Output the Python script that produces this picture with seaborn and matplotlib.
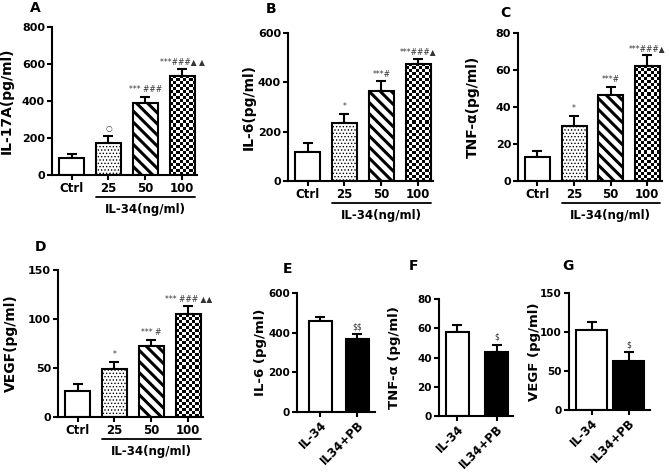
import numpy as np
import pandas as pd
import matplotlib
matplotlib.use("Agg")
import matplotlib.pyplot as plt
import seaborn as sns

# dose-response panels A-D
dose_cats = ["Ctrl", "25", "50", "100"]
il17a_mean = [90, 174, 390, 536]
il17a_err = [21, 36, 33, 36]
il6_mean = [119, 234, 363, 476]
il6_err = [34, 38, 41, 19]
tnf_mean = [13.2, 29.8, 46.6, 62.3]
tnf_err = [3.2, 5.4, 4.4, 5.6]
vegf_mean = [26.6, 48.5, 72.4, 105]
vegf_err = [6.8, 7.5, 6.6, 8.6]

il17a_marks = ["", "○", "*** ###", "***###▲ ▲"]
il6_marks = ["", "*", "***#", "***###▲"]
tnf_marks = ["", "*", "***#", "***###▲"]
vegf_marks = ["", "*", "*** #", "*** ### ▲▲"]

# PB panels E-G
pb_cats = ["IL-34", "IL34+PB"]
il6_pb_mean = [460, 370]
il6_pb_err = [19, 23]
tnf_pb_mean = [57.7, 44]
tnf_pb_err = [4.5, 4.7]
vegf_pb_mean = [102, 63]
vegf_pb_err = [11, 11.5]
il6_pb_marks = ["", "$$"]
tnf_pb_marks = ["", "$"]
vegf_pb_marks = ["", "$"]

W, H = 669, 473
sns.set_style("ticks")
plt.rcParams["font.family"] = ["DejaVu Sans"]
plt.rcParams["hatch.linewidth"] = 1.0
plt.rcParams["text.parse_math"] = False
for key in ["text.color", "axes.labelcolor", "xtick.color", "ytick.color", "axes.edgecolor"]:
    plt.rcParams[key] = "black"

fig = plt.figure(figsize=(W / 100, H / 100), dpi=100)


def add_ax(left, top, right, bottom):
    return fig.add_axes([left / W, (H - bottom) / H, (right - left) / W, (bottom - top) / H])


def style_ax(ax, yticks, ylabel, label_center_px, rot=False, ysize=8, lsize=10):
    ax.set_ylim(yticks[0], yticks[-1])
    ax.set_yticks(yticks)
    ax.set_ylabel(ylabel, fontsize=lsize, fontweight="bold")
    w_px = ax.get_position().width * W
    # label anchor is its right edge once rotated; shift by half its thickness
    ax.yaxis.set_label_coords((label_center_px + 6) / w_px, 0.5)
    ax.set_xlabel("")
    for s in ["left", "bottom"]:
        ax.spines[s].set_linewidth(1.5)
    sns.despine(ax=ax)
    ax.tick_params(axis="both", length=3.5, width=1.5, pad=1.5, colors="black")
    ax.tick_params(axis="x", labelsize=8.5)
    ax.tick_params(axis="y", labelsize=ysize)
    for t in ax.get_yticklabels():
        t.set_fontweight("bold")
    for t in ax.get_xticklabels():
        t.set_fontweight("bold")
        if rot:
            t.set_rotation(45)
            t.set_ha("right")
            t.set_rotation_mode("anchor")


def draw_bars(ax, cats, mean, err, marks, width, xlim, facecolors):
    df = pd.DataFrame({"group": cats, "value": mean})
    sns.barplot(data=df, x="group", y="value", order=cats, ax=ax, width=width,
                color="white", edgecolor="black", linewidth=1.5, errorbar=None)
    ax.set_xlim(*xlim)
    bars = ax.patches[:len(cats)]
    centers = [b.get_x() + b.get_width() / 2 for b in bars]
    for b, fc in zip(bars, facecolors):
        b.set_facecolor(fc)
    ax.errorbar(centers, mean, yerr=[np.zeros(len(mean)), err], fmt="none",
                ecolor="black", elinewidth=1.5, capsize=3.3, capthick=1.5, zorder=0.8)
    for c, m, e, t in zip(centers, mean, err, marks):
        if t:
            ax.annotate(t, (c, m + e), xytext=(0, 2), textcoords="offset points",
                        ha="center", va="bottom", fontsize=5.5, color="#333333",
                        annotation_clip=False)
    return bars


def dose_patterns(ax, bars, ylim):
    ax.set_ylim(*ylim)
    bars[1].set_hatch(".....")
    bars[2].set_hatch("\\\\\\")
    if hasattr(bars[2], "set_hatch_linewidth"):
        bars[2].set_hatch_linewidth(2.2)
        bars[1].set_hatch_linewidth(0.6)
    # checkerboard fill for the top dose
    b = bars[3]
    x0, y0, w, h = b.get_x(), b.get_y(), b.get_width(), b.get_height()
    p0 = ax.transData.transform((x0, y0))
    p1 = ax.transData.transform((x0 + w, y0 + h))
    ncol = max(2, int(round(abs(p1[0] - p0[0]) / 3.0)))
    nrow = max(2, int(round(abs(p1[1] - p0[1]) / 3.0)))
    board = np.indices((nrow, ncol)).sum(axis=0) % 2
    im = ax.imshow(board, extent=(x0, x0 + w, y0, y0 + h), cmap="gray_r",
                   aspect="auto", interpolation="nearest", zorder=0.5)
    im.set_clip_path(b)
    b.set_facecolor("none")
    b.set_zorder(1)


def group_line(ax, bars, label):
    x0 = bars[1].get_x()
    x1 = bars[3].get_x() + bars[3].get_width()
    trans = ax.get_xaxis_transform()
    h_px = ax.get_position().height * H
    yl = -22 / h_px
    ax.plot([x0, x1], [yl, yl], color="black", lw=1.3, transform=trans, clip_on=False)
    ax.text((x0 + x1) / 2, -34 / h_px, label, transform=trans, ha="center", va="center",
            fontsize=8.5, fontweight="bold")


dose_fc = ["white", "white", "white", "white"]
xlim_dose = (-0.53, 3.4)

# A
axA = add_ax(52, 27, 197, 175)
bA = draw_bars(axA, dose_cats, il17a_mean, il17a_err, il17a_marks, 0.68, xlim_dose, dose_fc)
style_ax(axA, [0, 200, 400, 600, 800], "IL-17A(pg/ml)", -44)
dose_patterns(axA, bA, (0, 800))
group_line(axA, bA, "IL-34(ng/ml)")

# B
axB = add_ax(288, 33, 433, 181)
bB = draw_bars(axB, dose_cats, il6_mean, il6_err, il6_marks, 0.68, xlim_dose, dose_fc)
style_ax(axB, [0, 200, 400, 600], "IL-6(pg/ml)", -38)
dose_patterns(axB, bB, (0, 600))
group_line(axB, bB, "IL-34(ng/ml)")

# C
axC = add_ax(518, 33, 662, 181)
bC = draw_bars(axC, dose_cats, tnf_mean, tnf_err, tnf_marks, 0.68, xlim_dose, dose_fc)
style_ax(axC, [0, 20, 40, 60, 80], "TNF-α(pg/ml)", -44)
dose_patterns(axC, bC, (0, 80))
group_line(axC, bC, "IL-34(ng/ml)")

# D
axD = add_ax(58, 270, 203, 417)
bD = draw_bars(axD, dose_cats, vegf_mean, vegf_err, vegf_marks, 0.68, xlim_dose, dose_fc)
style_ax(axD, [0, 50, 100, 150], "VEGF(pg/ml)", -46)
dose_patterns(axD, bD, (0, 150))
group_line(axD, bD, "IL-34(ng/ml)")

pb_fc = ["white", "black"]

# E
axE = add_ax(297, 293, 375, 412)
draw_bars(axE, pb_cats, il6_pb_mean, il6_pb_err, il6_pb_marks, 0.63, (-0.64, 1.49), pb_fc)
style_ax(axE, [0, 200, 400, 600], "IL-6 (pg/ml)", -36, rot=True, ysize=7.5, lsize=9.5)

# F
axF = add_ax(439, 299, 513, 416)
draw_bars(axF, pb_cats, tnf_pb_mean, tnf_pb_err, tnf_pb_marks, 0.59, (-0.47, 1.42), pb_fc)
style_ax(axF, [0, 20, 40, 60, 80], "TNF-α (pg/ml)", -44, rot=True, ysize=7.5, lsize=9.5)

# G
axG = add_ax(569, 293, 650, 410)
draw_bars(axG, pb_cats, vegf_pb_mean, vegf_pb_err, vegf_pb_marks, 0.84, (-0.61, 1.58), pb_fc)
style_ax(axG, [0, 50, 100, 150], "VEGF (pg/ml)", -34, rot=True, ysize=7.5, lsize=9.5)

# panel letters
for letter, x, y in [("A", 35, 8), ("B", 271, 9), ("C", 505, 13), ("D", 40, 247),
                     ("E", 287, 269), ("F", 413, 266), ("G", 568, 266)]:
    fig.text(x / W, 1 - y / H, letter, fontsize=10, fontweight="bold", ha="center", va="center")

fig.savefig("out.png", dpi=100)
